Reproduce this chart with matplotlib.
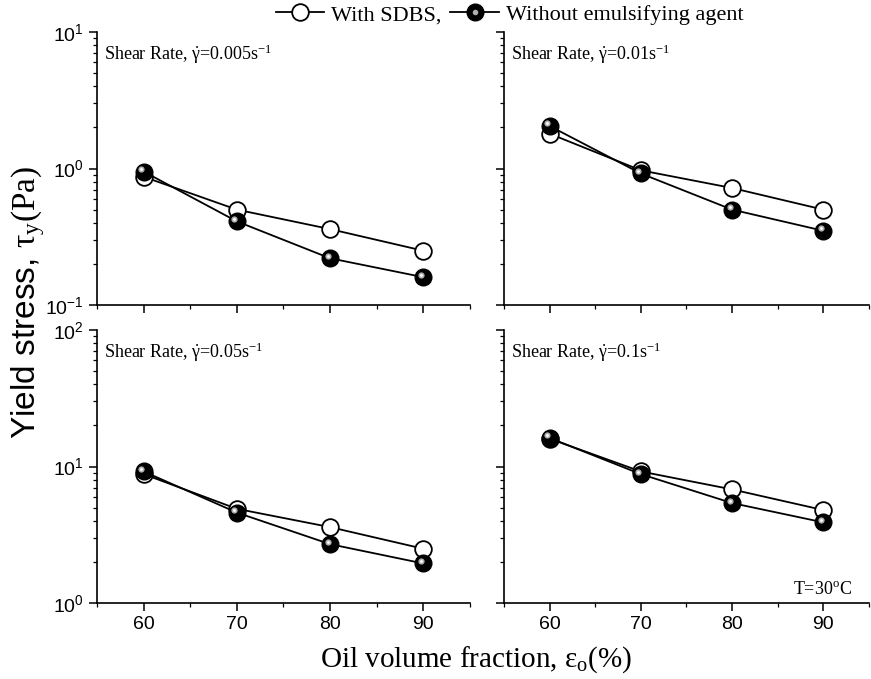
import matplotlib
matplotlib.use("Agg")
import matplotlib.pyplot as plt
from matplotlib.ticker import LogLocator, MultipleLocator, NullFormatter
from matplotlib.lines import Line2D
from matplotlib.legend_handler import HandlerTuple
import matplotlib.transforms as mtransforms

plt.rcParams["font.family"] = "Liberation Sans"
plt.rcParams["mathtext.fontset"] = "custom"
plt.rcParams["mathtext.rm"] = "Liberation Serif"
plt.rcParams["mathtext.it"] = "Liberation Serif:italic"

oil_fraction = [60, 70, 80, 90]

# yield stress (Pa) for each shear rate panel
sdbs_0005 = [0.87, 0.50, 0.36, 0.25]
none_0005 = [0.95, 0.41, 0.22, 0.16]
sdbs_001 = [1.80, 0.97, 0.72, 0.50]
none_001 = [2.05, 0.92, 0.50, 0.35]
sdbs_005 = [8.8, 4.9, 3.6, 2.5]
none_005 = [9.2, 4.6, 2.7, 1.95]
sdbs_01 = [16.0, 9.2, 6.8, 4.8]
none_01 = [16.2, 8.8, 5.4, 3.9]

panel_labels = ["0.005", "0.01", "0.05", "0.1"]
panel_ylims = [(0.1, 10), (0.1, 10), (1, 100), (1, 100)]

fig = plt.figure(figsize=(8.71, 6.79), dpi=100)
ax_tl = fig.add_axes([0.1114, 0.5508, 0.428, 0.402])
ax_tr = fig.add_axes([0.5786, 0.5508, 0.419, 0.402])
ax_bl = fig.add_axes([0.1114, 0.1119, 0.428, 0.402])
ax_br = fig.add_axes([0.5786, 0.1119, 0.419, 0.402])
axes = [ax_tl, ax_tr, ax_bl, ax_br]

series = [(sdbs_0005, none_0005), (sdbs_001, none_001),
          (sdbs_005, none_005), (sdbs_01, none_01)]

ms = 12
for i, ax in enumerate(axes):
    sdbs, none = series[i]
    ax.plot(oil_fraction, sdbs, "-o", color="black", lw=1.3, ms=ms,
            mfc="white", mec="black", mew=1.3, zorder=3)
    ax.plot(oil_fraction, none, "-o", color="black", lw=1.3, ms=ms,
            mfc="black", mec="black", mew=1.0, zorder=4)
    # fake the shaded-sphere look of the filled markers
    hl = mtransforms.offset_copy(ax.transData, fig=fig, x=-2.5, y=2.5, units="dots")
    ax.plot(oil_fraction, none, "o", ms=4.5, mfc="#b0b0b0", mec="none",
            transform=hl, zorder=5)
    ax.plot(oil_fraction, none, "o", ms=2, mfc="white", mec="none",
            transform=hl, zorder=6)

    ax.set_yscale("log")
    ax.set_ylim(*panel_ylims[i])
    ax.set_xlim(55, 95)
    ax.xaxis.set_major_locator(MultipleLocator(10))
    ax.xaxis.set_minor_locator(MultipleLocator(5))
    ax.yaxis.set_major_locator(LogLocator(base=10))
    ax.yaxis.set_minor_locator(LogLocator(base=10, subs=range(2, 10)))
    ax.yaxis.set_minor_formatter(NullFormatter())
    for s in ["top", "right"]:
        ax.spines[s].set_visible(False)
    for s in ["left", "bottom"]:
        ax.spines[s].set_linewidth(1.2)
    ax.tick_params(which="major", direction="out", length=6, width=1.1, labelsize=14)
    ax.tick_params(which="minor", direction="out", length=3, width=0.9)
    if i in (1, 3):
        ax.yaxis.set_major_formatter(NullFormatter())
    if i in (0, 1):
        ax.xaxis.set_major_formatter(NullFormatter())

    ax.text(0.02, 0.92, r"Shear Rate, $\mathrm{\dot{\gamma}}$=" + panel_labels[i] + r"s$^{\mathrm{-1}}$",
            transform=ax.transAxes, ha="left", va="center",
            family="Liberation Serif", fontsize=13)

ax_br.text(0.955, 0.05, r"T=30$^{\mathrm{o}}$C", transform=ax_br.transAxes,
           ha="right", va="center", family="Liberation Serif", fontsize=13)

fig.text(0.032, 0.555, r"Yield stress, $\mathrm{\tau_y(Pa)}$", rotation=90,
         ha="center", va="center", fontsize=24)
fig.text(0.547, 0.028, r"Oil volume fraction, $\mathrm{\varepsilon_o}$(%)",
         ha="center", va="center", family="Liberation Serif", fontsize=21)

h_open = Line2D([], [], color="black", lw=1.3, marker="o", ms=ms,
                mfc="white", mec="black", mew=1.3)
h_fill = Line2D([], [], color="black", lw=1.3, marker="o", ms=ms,
                mfc="black", mec="black")
h_hl = Line2D([], [], ls="none", marker="o", ms=4, mfc="#b0b0b0", mec="none")
fig.legend([h_open, (h_fill, h_hl)], ["With SDBS,", "Without emulsifying agent"],
           handler_map={tuple: HandlerTuple(ndivide=1)},
           loc="center", bbox_to_anchor=(0.585, 0.978), ncol=2, frameon=False,
           prop={"family": "Liberation Serif", "size": 16},
           handlelength=2.2, handletextpad=0.3, columnspacing=0.4,
           borderpad=0, borderaxespad=0)

fig.savefig("out.png", dpi=100)
